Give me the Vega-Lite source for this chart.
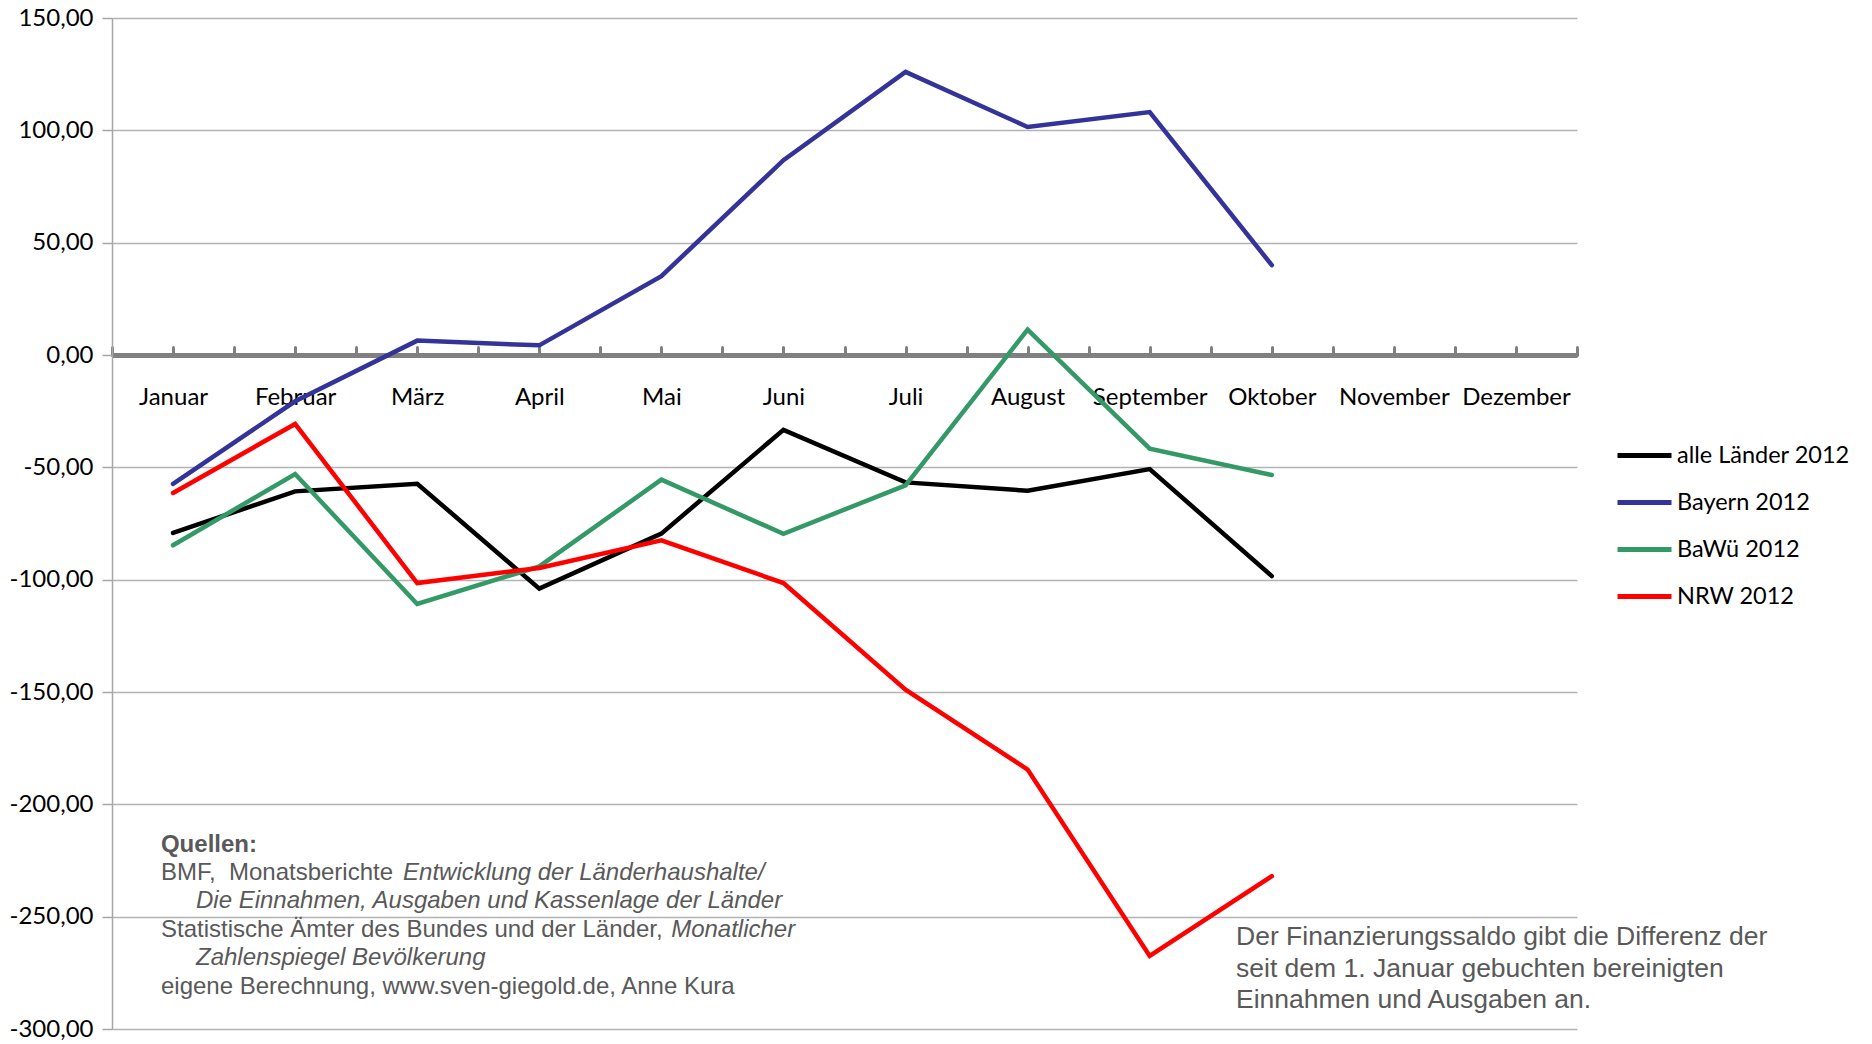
{
  "$schema": "https://vega.github.io/schema/vega-lite/v6.json",
  "width": 1465,
  "height": 1011,
  "autosize": {"type": "none"},
  "padding": {"left": 112, "top": 18, "right": 295, "bottom": 15},
  "background": "white",
  "config": {"view": {"stroke": null}, "font": "Lato"},
  "data": {"values": [{}]},
  "layer": [
    {
      "data": {"values": [
        {"monat": "Januar", "m": 1, "serie": "alle Länder 2012", "wert": -79.2},
        {"monat": "Februar", "m": 2, "serie": "alle Länder 2012", "wert": -60.7},
        {"monat": "März", "m": 3, "serie": "alle Länder 2012", "wert": -57.3},
        {"monat": "April", "m": 4, "serie": "alle Länder 2012", "wert": -104.0},
        {"monat": "Mai", "m": 5, "serie": "alle Länder 2012", "wert": -79.5},
        {"monat": "Juni", "m": 6, "serie": "alle Länder 2012", "wert": -33.3},
        {"monat": "Juli", "m": 7, "serie": "alle Länder 2012", "wert": -56.7},
        {"monat": "August", "m": 8, "serie": "alle Länder 2012", "wert": -60.4},
        {"monat": "September", "m": 9, "serie": "alle Länder 2012", "wert": -50.8},
        {"monat": "Oktober", "m": 10, "serie": "alle Länder 2012", "wert": -98.4},
        {"monat": "Januar", "m": 1, "serie": "Bayern 2012", "wert": -57.4},
        {"monat": "Februar", "m": 2, "serie": "Bayern 2012", "wert": -20.6},
        {"monat": "März", "m": 3, "serie": "Bayern 2012", "wert": 6.4},
        {"monat": "April", "m": 4, "serie": "Bayern 2012", "wert": 4.3},
        {"monat": "Mai", "m": 5, "serie": "Bayern 2012", "wert": 35.1},
        {"monat": "Juni", "m": 6, "serie": "Bayern 2012", "wert": 86.7},
        {"monat": "Juli", "m": 7, "serie": "Bayern 2012", "wert": 126.0},
        {"monat": "August", "m": 8, "serie": "Bayern 2012", "wert": 101.5},
        {"monat": "September", "m": 9, "serie": "Bayern 2012", "wert": 108.1},
        {"monat": "Oktober", "m": 10, "serie": "Bayern 2012", "wert": 40.0},
        {"monat": "Januar", "m": 1, "serie": "BaWü 2012", "wert": -84.7},
        {"monat": "Februar", "m": 2, "serie": "BaWü 2012", "wert": -53.0},
        {"monat": "März", "m": 3, "serie": "BaWü 2012", "wert": -110.8},
        {"monat": "April", "m": 4, "serie": "BaWü 2012", "wert": -94.1},
        {"monat": "Mai", "m": 5, "serie": "BaWü 2012", "wert": -55.5},
        {"monat": "Juni", "m": 6, "serie": "BaWü 2012", "wert": -79.6},
        {"monat": "Juli", "m": 7, "serie": "BaWü 2012", "wert": -58.0},
        {"monat": "August", "m": 8, "serie": "BaWü 2012", "wert": 11.3},
        {"monat": "September", "m": 9, "serie": "BaWü 2012", "wert": -41.7},
        {"monat": "Oktober", "m": 10, "serie": "BaWü 2012", "wert": -53.4},
        {"monat": "Januar", "m": 1, "serie": "NRW 2012", "wert": -61.4},
        {"monat": "Februar", "m": 2, "serie": "NRW 2012", "wert": -30.7},
        {"monat": "März", "m": 3, "serie": "NRW 2012", "wert": -101.5},
        {"monat": "April", "m": 4, "serie": "NRW 2012", "wert": -94.8},
        {"monat": "Mai", "m": 5, "serie": "NRW 2012", "wert": -82.5},
        {"monat": "Juni", "m": 6, "serie": "NRW 2012", "wert": -101.5},
        {"monat": "Juli", "m": 7, "serie": "NRW 2012", "wert": -149.0},
        {"monat": "August", "m": 8, "serie": "NRW 2012", "wert": -184.5},
        {"monat": "September", "m": 9, "serie": "NRW 2012", "wert": -267.5},
        {"monat": "Oktober", "m": 10, "serie": "NRW 2012", "wert": -232.0}
      ]},
      "mark": {"type": "line", "strokeWidth": 4.5, "strokeCap": "round"},
      "encoding": {
        "x": {
          "field": "m", "type": "quantitative",
          "scale": {"domain": [0.5, 12.5], "nice": false, "zero": false},
          "axis": {
            "title": null,
            "values": [0.5, 1, 1.5, 2, 2.5, 3, 3.5, 4, 4.5, 5, 5.5, 6, 6.5, 7, 7.5, 8, 8.5, 9, 9.5, 10, 10.5, 11, 11.5, 12, 12.5],
            "labelExpr": "datum.value % 1 == 0 ? ['Januar','Februar','März','April','Mai','Juni','Juli','August','September','Oktober','November','Dezember'][datum.value - 1] : ''",
            "offset": -674,
            "grid": false,
            "domainColor": "#808080",
            "domainWidth": 5,
            "tickColor": "#808080",
            "tickWidth": 3,
            "tickSize": -8,
            "tickCap": "round",
            "labelPadding": 38,
            "labelFont": "Lato",
            "labelFontSize": 24,
            "labelColor": "#000000",
            "labelFlush": false,
            "labelOverlap": false
          }
        },
        "y": {
          "field": "wert", "type": "quantitative",
          "scale": {"domain": [-300, 150], "nice": false, "zero": false},
          "axis": {
            "title": null,
            "values": [-300, -250, -200, -150, -100, -50, 0, 50, 100, 150],
            "labelExpr": "(datum.value < 0 ? '-' : '') + replace(format(abs(datum.value), '.2f'), '.', ',')",
            "domainColor": "#a6a6a6",
            "domainWidth": 1.5,
            "tickColor": "#a6a6a6",
            "tickWidth": 1.5,
            "tickSize": 10,
            "gridColor": "#b3b3b3",
            "gridWidth": 1.5,
            "labelPadding": 9,
            "labelFont": "Lato",
            "labelFontSize": 24,
            "labelColor": "#000000",
            "labelFlush": false,
            "labelOverlap": false
          }
        },
        "color": {
          "field": "serie", "type": "nominal",
          "scale": {
            "domain": ["alle Länder 2012", "Bayern 2012", "BaWü 2012", "NRW 2012"],
            "range": ["#000000", "#333399", "#339966", "#ff0000"]
          },
          "legend": {
            "title": null,
            "orient": "none",
            "legendX": 1503,
            "legendY": 408,
            "padding": 0,
            "symbolType": "stroke",
            "symbolSize": 2916,
            "symbolStrokeWidth": 5,
            "labelFont": "Lato",
            "labelFontSize": 23.5,
            "labelColor": "#000000",
            "labelOffset": 3,
            "labelLimit": 400,
            "rowPadding": 6
          }
        }
      }
    },
    {
      "mark": {"type": "text", "text": "Quellen:", "align": "left", "baseline": "middle", "font": "Liberation Sans", "fontSize": 24, "fontWeight": "bold", "color": "#595959"},
      "encoding": {"x": {"datum": 0.901}, "y": {"datum": -218.1}}
    },
    {
      "mark": {"type": "text", "text": "BMF,\u00a0 Monatsberichte", "align": "left", "baseline": "middle", "font": "Liberation Sans", "fontSize": 24, "color": "#595959"},
      "encoding": {"x": {"datum": 0.901}, "y": {"datum": -230.6}}
    },
    {
      "mark": {"type": "text", "text": "Entwicklung der Länderhaushalte/", "align": "left", "baseline": "middle", "font": "Liberation Sans", "fontSize": 24, "fontStyle": "italic", "color": "#595959"},
      "encoding": {"x": {"datum": 2.884}, "y": {"datum": -230.6}}
    },
    {
      "mark": {"type": "text", "text": "Die Einnahmen, Ausgaben und Kassenlage der Länder", "align": "left", "baseline": "middle", "font": "Liberation Sans", "fontSize": 24, "fontStyle": "italic", "color": "#595959"},
      "encoding": {"x": {"datum": 1.188}, "y": {"datum": -243.2}}
    },
    {
      "mark": {"type": "text", "text": "Statistische Ämter des Bundes und der Länder,", "align": "left", "baseline": "middle", "font": "Liberation Sans", "fontSize": 24, "color": "#595959"},
      "encoding": {"x": {"datum": 0.901}, "y": {"datum": -255.9}}
    },
    {
      "mark": {"type": "text", "text": "Monatlicher", "align": "left", "baseline": "middle", "font": "Liberation Sans", "fontSize": 24, "fontStyle": "italic", "color": "#595959"},
      "encoding": {"x": {"datum": 5.08}, "y": {"datum": -255.9}}
    },
    {
      "mark": {"type": "text", "text": "Zahlenspiegel Bevölkerung", "align": "left", "baseline": "middle", "font": "Liberation Sans", "fontSize": 24, "fontStyle": "italic", "color": "#595959"},
      "encoding": {"x": {"datum": 1.188}, "y": {"datum": -268.6}}
    },
    {
      "mark": {"type": "text", "text": "eigene Berechnung, www.sven-giegold.de, Anne Kura", "align": "left", "baseline": "middle", "font": "Liberation Sans", "fontSize": 24, "color": "#595959"},
      "encoding": {"x": {"datum": 0.901}, "y": {"datum": -281.3}}
    },
    {
      "mark": {"type": "text", "text": "Der Finanzierungssaldo gibt die Differenz der", "align": "left", "baseline": "middle", "font": "Liberation Sans", "fontSize": 26.5, "color": "#595959"},
      "encoding": {"x": {"datum": 9.707}, "y": {"datum": -259.0}}
    },
    {
      "mark": {"type": "text", "text": "seit dem 1. Januar gebuchten bereinigten", "align": "left", "baseline": "middle", "font": "Liberation Sans", "fontSize": 26.5, "color": "#595959"},
      "encoding": {"x": {"datum": 9.707}, "y": {"datum": -273.1}}
    },
    {
      "mark": {"type": "text", "text": "Einnahmen und Ausgaben an.", "align": "left", "baseline": "middle", "font": "Liberation Sans", "fontSize": 26.5, "color": "#595959"},
      "encoding": {"x": {"datum": 9.707}, "y": {"datum": -287.1}}
    }
  ]
}
